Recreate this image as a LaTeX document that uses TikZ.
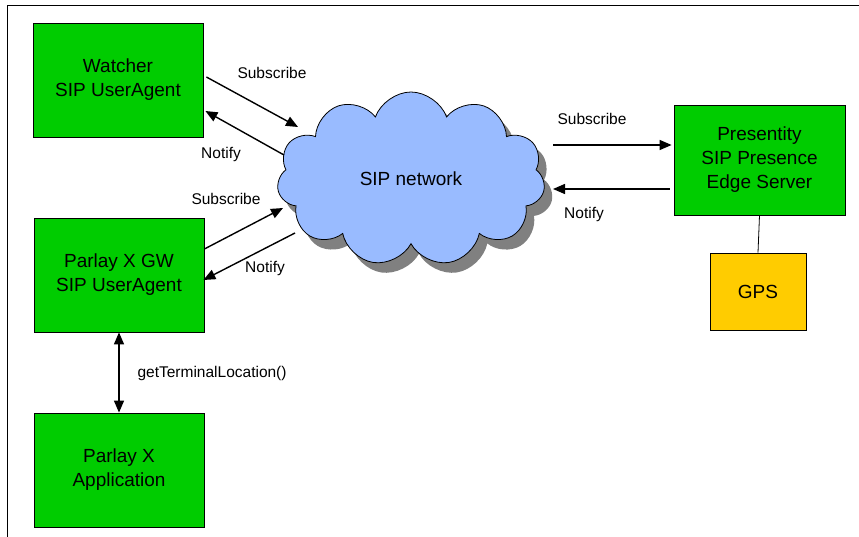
\documentclass[tikz,border=0pt]{standalone}
\usepackage{xcolor}
\usepackage{fontspec}
\setmainfont{Liberation Sans}
\usetikzlibrary{shapes.symbols,shadows,arrows.meta}

\definecolor{boxgreen}{RGB}{0,204,0}
\definecolor{gpsyellow}{RGB}{255,204,0}
\definecolor{cloudblue}{RGB}{153,187,255}

\begin{document}
\begin{tikzpicture}[x=1pt,y=-1pt,
    agent/.style={draw, thick, fill=boxgreen, minimum width=170pt, minimum height=114pt,
      align=center, font=\fontsize{19}{24}\selectfont},
    lbl/.style={font=\fontsize{15.5}{18}\selectfont},
    msg/.style={-{Triangle[length=12pt,width=10pt]}, line width=1.4pt}]
      % \draw[help lines, gray!50, very thin] (0,0) grid (859,537);
      \useasboundingbox (0,0) rectangle (859,537);
      \draw[thick] (7,537) -- (7,5) -- (859,5);

      \node[agent] (watcher) at (118,80) {Watcher\\SIP UserAgent};
      \node[agent] (gw) at (119,275) {Parlay X GW\\SIP UserAgent};
      \node[agent] (app) at (119,470) {Parlay X\\Application};
      \node[agent, minimum width=171pt, minimum height=110pt] (presentity) at (759.5,160)
        {Presentity\\SIP Presence\\Edge Server};
      \node[agent, fill=gpsyellow, minimum width=96pt, minimum height=77pt] (gps) at (758,291.5) {GPS};

      \node[cloud, cloud puffs=11, cloud puff arc=140, cloud ignores aspect, draw, thick,
        fill=cloudblue, minimum width=268pt, minimum height=174pt,
        drop shadow={shadow xshift=8pt, shadow yshift=-10pt, fill=gray, opacity=1},
        font=\fontsize{19}{24}\selectfont] (cloud) at (411,179) {SIP network};

      % watcher <-> network
      \draw[msg] ([shift={(3,-3)}]watcher.east) -- ([shift={(-113,-52)}]cloud.center);
      \draw[msg] ([shift={(-127,-24)}]cloud.center) -- ([shift={(2,31)}]watcher.east);
      \node[lbl] (subw) at (272,73) {Subscribe};
      \node[lbl] (notw) at (221,154) {Notify};

      % gateway <-> network
      \draw[msg] ([shift={(0,-26)}]gw.east) -- ([shift={(-128,29)}]cloud.center);
      \draw[msg] ([shift={(-116,54)}]cloud.center) -- ([shift={(-1,5)}]gw.east);
      \node[lbl] (subg) at (226,199) {Subscribe};
      \node[lbl] (notg) at (265,268) {Notify};

      % network <-> presentity
      \draw[msg] ([shift={(142,-34)}]cloud.center) -- ([shift={(-2,-15)}]presentity.west);
      \draw[msg] ([shift={(-4,29)}]presentity.west) -- ([shift={(142,10)}]cloud.center);
      \node[lbl] (subp) at (592,119) {Subscribe};
      \node[lbl] (notp) at (584,214) {Notify};

      \draw[thick] (presentity.south) -- (gps.north);

      \draw[{Triangle[length=12pt,width=10pt]}-{Triangle[length=12pt,width=10pt]}, line width=1.4pt]
        (gw.south) -- (app.north);
      \node[lbl, anchor=west] (loc) at (134,373) {getTerminalLocation()};
\end{tikzpicture}
\end{document}
